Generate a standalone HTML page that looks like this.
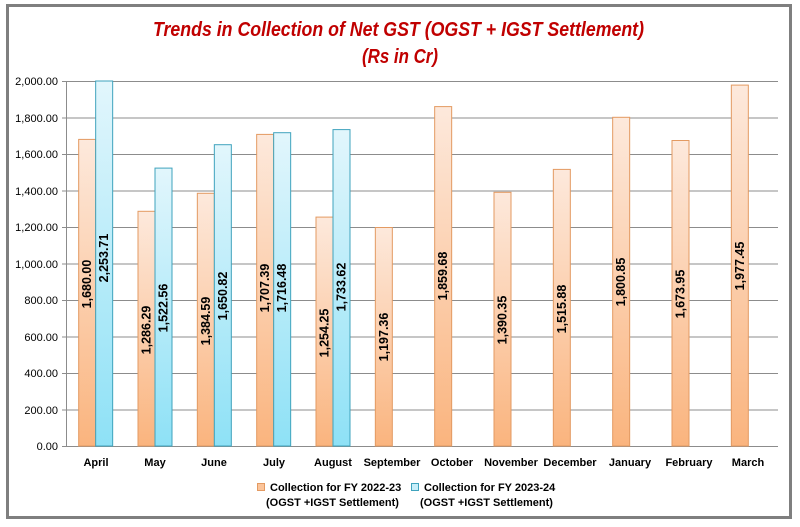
<!DOCTYPE html>
<html><head><meta charset="utf-8"><style>
html,body{margin:0;padding:0;background:#fff}
svg{display:block;font-family:"Liberation Sans",Calibri,sans-serif}
</style></head><body>
<svg width="800" height="527" viewBox="0 0 800 527" xmlns="http://www.w3.org/2000/svg">
<defs>
<linearGradient id="go" x1="0" y1="0" x2="0" y2="1"><stop offset="0" stop-color="#fde9dc"/><stop offset="1" stop-color="#fab47e"/></linearGradient>
<linearGradient id="gb" x1="0" y1="0" x2="0" y2="1"><stop offset="0" stop-color="#e2f6fc"/><stop offset="1" stop-color="#8ee1f6"/></linearGradient>
</defs>
<rect x="7.5" y="5.5" width="783" height="512" fill="#fff" stroke="#7f7f7f" stroke-width="3"/>
<text x="153" y="36" textLength="491" lengthAdjust="spacingAndGlyphs" font-size="20" font-weight="bold" font-style="italic" fill="#c00000">Trends in Collection of Net GST (OGST + IGST Settlement)</text>
<text x="362" y="63" textLength="76" lengthAdjust="spacingAndGlyphs" font-size="20" font-weight="bold" font-style="italic" fill="#c00000">(Rs in Cr)</text>
<g stroke="#8c8c8c" stroke-width="1">
<line x1="62" y1="81.5" x2="778" y2="81.5"/><line x1="62" y1="118" x2="778" y2="118"/><line x1="62" y1="154.5" x2="778" y2="154.5"/><line x1="62" y1="191" x2="778" y2="191"/><line x1="62" y1="227.5" x2="778" y2="227.5"/><line x1="62" y1="264" x2="778" y2="264"/><line x1="62" y1="300.5" x2="778" y2="300.5"/><line x1="62" y1="337" x2="778" y2="337"/><line x1="62" y1="373.5" x2="778" y2="373.5"/><line x1="62" y1="410" x2="778" y2="410"/>
<line x1="66.5" y1="81" x2="66.5" y2="446"/><line x1="62" y1="446.5" x2="778" y2="446.5"/>
</g>
<g font-size="11" fill="#000" text-anchor="end">
<text x="58" y="85">2,000.00</text><text x="58" y="122">1,800.00</text><text x="58" y="158">1,600.00</text><text x="58" y="195">1,400.00</text><text x="58" y="231">1,200.00</text><text x="58" y="268">1,000.00</text><text x="58" y="304">800.00</text><text x="58" y="341">600.00</text><text x="58" y="377">400.00</text><text x="58" y="414">200.00</text><text x="58" y="450">0.00</text>
</g>
<g fill="url(#go)" stroke="#e39a62" stroke-width="1">
<rect x="78.67" y="139.4" width="17" height="306.6"/><rect x="138" y="211.3" width="17" height="234.7"/><rect x="197.33" y="193.3" width="17" height="252.7"/><rect x="256.67" y="134.4" width="17" height="311.6"/><rect x="316" y="217.1" width="17" height="228.9"/><rect x="375.33" y="227.5" width="17" height="218.5"/><rect x="434.67" y="106.6" width="17" height="339.4"/><rect x="494" y="192.3" width="17" height="253.7"/><rect x="553.33" y="169.4" width="17" height="276.6"/><rect x="612.67" y="117.3" width="17" height="328.7"/><rect x="672" y="140.5" width="17" height="305.5"/><rect x="731.33" y="85.1" width="17" height="360.9"/>
</g>
<g fill="url(#gb)" stroke="#3fa3bd" stroke-width="1">
<rect x="95.67" y="81" width="17" height="365"/><rect x="155" y="168.1" width="17" height="277.9"/><rect x="214.33" y="144.7" width="17" height="301.3"/><rect x="273.67" y="132.7" width="17" height="313.3"/><rect x="333" y="129.6" width="17" height="316.4"/>
</g>
<g font-size="12.5" font-weight="bold" fill="#000" text-anchor="middle" dominant-baseline="central">
<text transform="translate(87.2,284) rotate(-90)">1,680.00</text>
<text transform="translate(104.2,258) rotate(-90)">2,253.71</text>
<text transform="translate(146.5,330) rotate(-90)">1,286.29</text>
<text transform="translate(163.5,308) rotate(-90)">1,522.56</text>
<text transform="translate(205.8,321) rotate(-90)">1,384.59</text>
<text transform="translate(222.8,296) rotate(-90)">1,650.82</text>
<text transform="translate(265.2,288) rotate(-90)">1,707.39</text>
<text transform="translate(282.2,288) rotate(-90)">1,716.48</text>
<text transform="translate(324.5,333) rotate(-90)">1,254.25</text>
<text transform="translate(341.5,287) rotate(-90)">1,733.62</text>
<text transform="translate(383.8,337) rotate(-90)">1,197.36</text>
<text transform="translate(443.2,276) rotate(-90)">1,859.68</text>
<text transform="translate(502.5,320) rotate(-90)">1,390.35</text>
<text transform="translate(561.8,309) rotate(-90)">1,515.88</text>
<text transform="translate(621.2,282) rotate(-90)">1,800.85</text>
<text transform="translate(680.5,294) rotate(-90)">1,673.95</text>
<text transform="translate(739.8,266) rotate(-90)">1,977.45</text>
</g>
<g font-size="11" font-weight="bold" fill="#000" text-anchor="middle">
<text x="96" y="466">April</text><text x="155" y="466">May</text><text x="214" y="466">June</text><text x="274" y="466">July</text><text x="333" y="466">August</text><text x="392" y="466">September</text><text x="452" y="466">October</text><text x="511" y="466">November</text><text x="570" y="466">December</text><text x="630" y="466">January</text><text x="689" y="466">February</text><text x="748" y="466">March</text>
</g>
<rect x="257.5" y="483.5" width="7" height="7" fill="#fbc49a" stroke="#e39a62"/>
<rect x="411.5" y="483.5" width="7" height="7" fill="#c7eef9" stroke="#3fa3bd"/>
<g font-size="11" font-weight="bold" fill="#000">
<text x="270" y="491">Collection for FY 2022-23</text>
<text x="266" y="506">(OGST +IGST Settlement)</text>
<text x="424" y="491">Collection for FY 2023-24</text>
<text x="420" y="506">(OGST +IGST Settlement)</text>
</g>
</svg>
</body></html>
